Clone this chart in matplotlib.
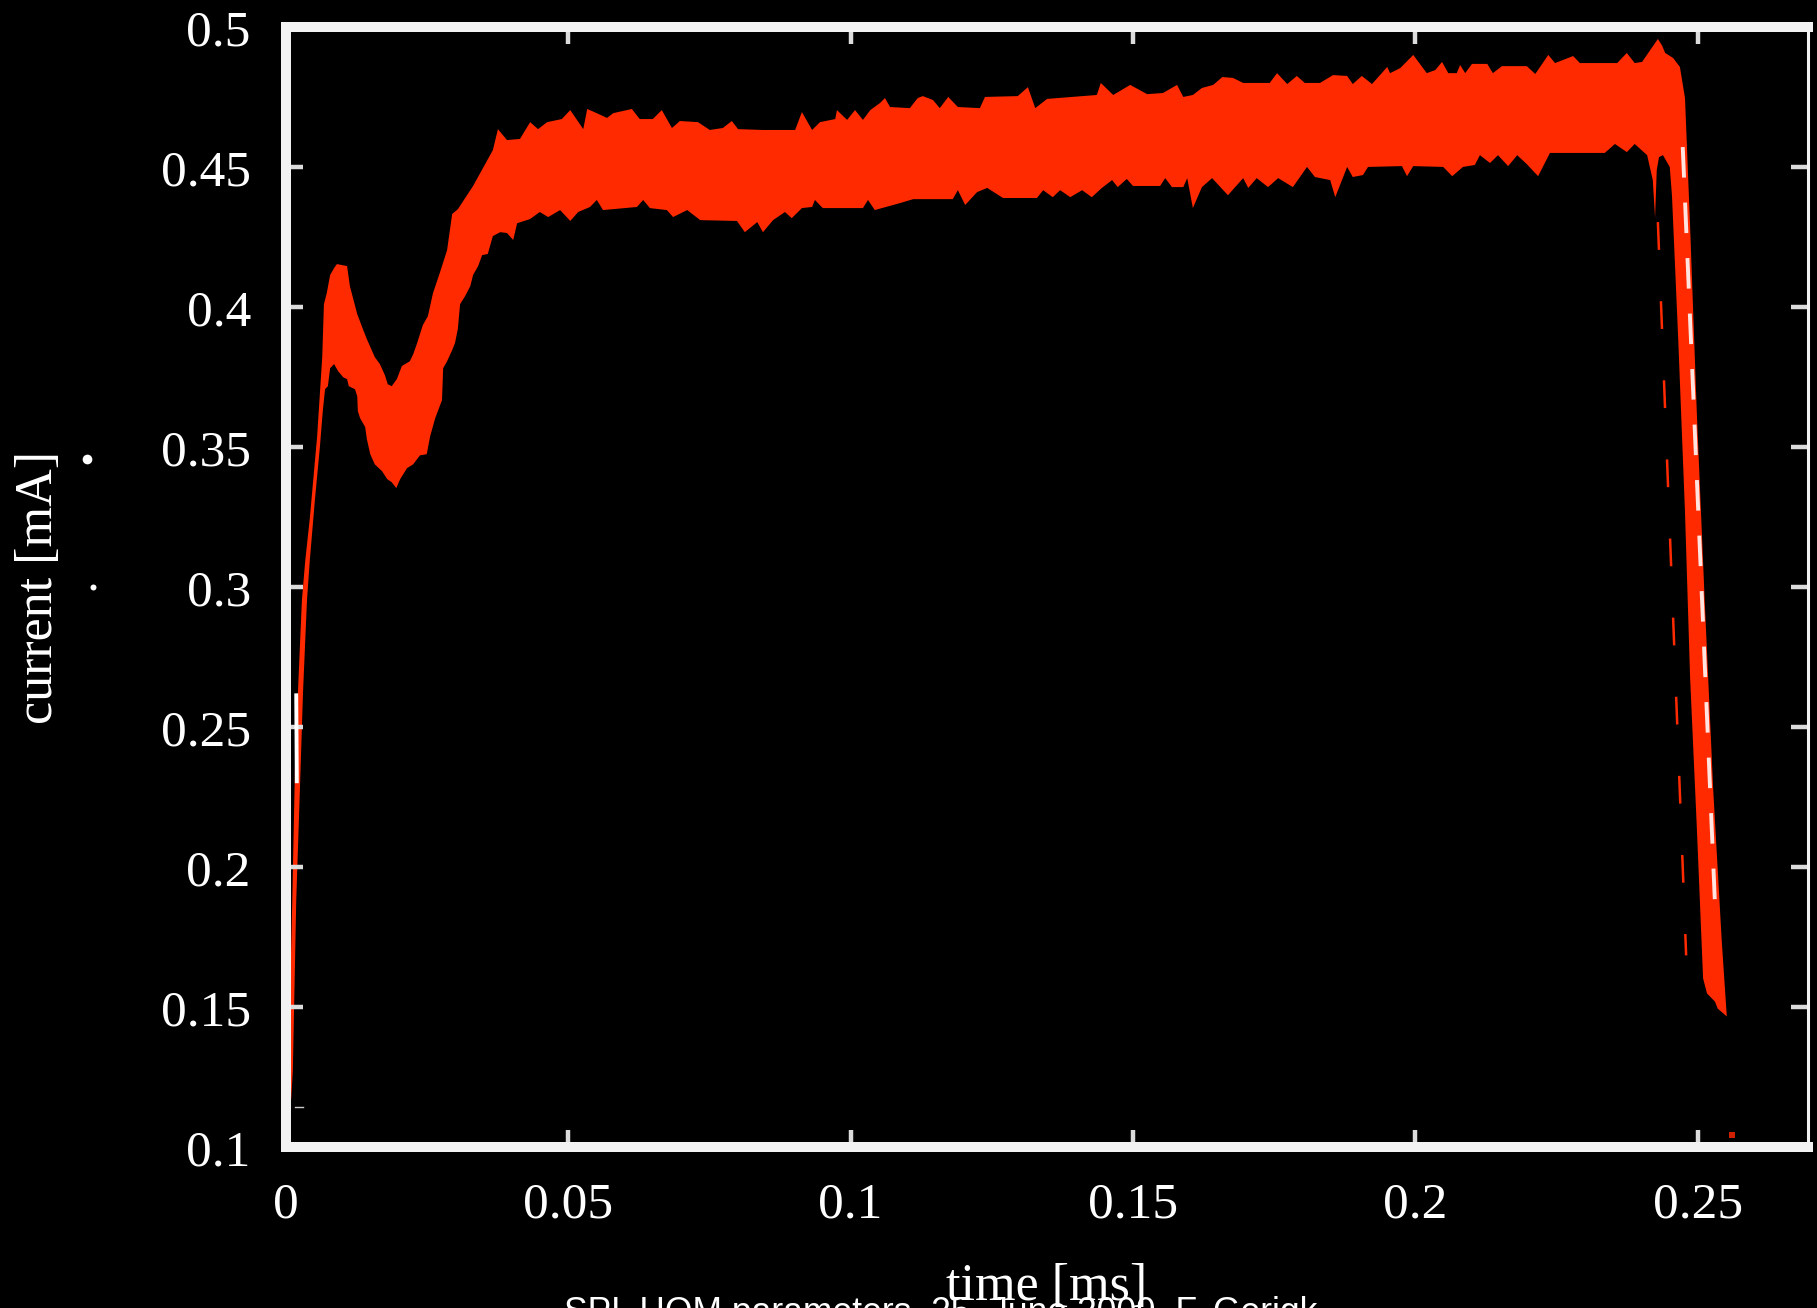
import matplotlib
matplotlib.use('Agg')
import matplotlib.pyplot as plt
from matplotlib.ticker import FormatStrFormatter

# beam current envelope (top and bottom edge of the red band), time in ms, current in mA
upper_t = [0.0006, 0.0012, 0.0017, 0.0022, 0.0029, 0.0035, 0.0043, 0.0056, 0.0065, 0.0068,
           0.0073, 0.0079, 0.0086, 0.0091, 0.0109, 0.0114, 0.0127, 0.0137, 0.0144, 0.0158,
           0.0167, 0.0176, 0.0181, 0.0188, 0.0197, 0.0206, 0.0220, 0.0226, 0.0233, 0.0243,
           0.0252, 0.0261, 0.0273, 0.0286, 0.0295, 0.0305, 0.0332, 0.0367, 0.0376, 0.0392,
           0.0415, 0.0433, 0.0447, 0.0463, 0.0489, 0.0504, 0.0527, 0.0534, 0.0551, 0.0569,
           0.0580, 0.0613, 0.0627, 0.0650, 0.0666, 0.0684, 0.0698, 0.0730, 0.0751, 0.0774,
           0.0790, 0.0801, 0.0845, 0.0902, 0.0914, 0.0932, 0.0946, 0.0973, 0.0976, 0.0994,
           0.1008, 0.1022, 0.1035, 0.1052, 0.1061, 0.1070, 0.1105, 0.1119, 0.1128, 0.1146,
           0.1158, 0.1173, 0.1190, 0.1229, 0.1238, 0.1296, 0.1314, 0.1327, 0.1348, 0.1436,
           0.1443, 0.1465, 0.1495, 0.1525, 0.1553, 0.1578, 0.1589, 0.1606, 0.1622, 0.1642,
           0.1658, 0.1677, 0.1695, 0.1742, 0.1755, 0.1773, 0.1790, 0.1804, 0.1831, 0.1854,
           0.1879, 0.1889, 0.1905, 0.1923, 0.1950, 0.1955, 0.1973, 0.1996, 0.2020, 0.2035,
           0.2047, 0.2058, 0.2073, 0.2079, 0.2088, 0.2100, 0.2127, 0.2137, 0.2153, 0.2197,
           0.2212, 0.2235, 0.2247, 0.2279, 0.2291, 0.2357, 0.2374, 0.2388, 0.2401, 0.2429,
           0.2436, 0.2442, 0.2456, 0.2468, 0.2477, 0.2486, 0.2498, 0.2512, 0.2527, 0.2542,
           0.2551]
upper_i = [0.1382, 0.1882, 0.2383, 0.2626, 0.2954, 0.3097, 0.3247, 0.3540, 0.3823, 0.4012,
           0.4051, 0.4116, 0.4141, 0.4155, 0.4148, 0.4076, 0.3976, 0.3923, 0.3887, 0.3823,
           0.3798, 0.3758, 0.3726, 0.3719, 0.3744, 0.3791, 0.3808, 0.3833, 0.3873, 0.3937,
           0.3969, 0.4051, 0.4123, 0.4205, 0.4334, 0.4351, 0.4434, 0.4562, 0.4637, 0.4598,
           0.4602, 0.4662, 0.4637, 0.4662, 0.4673, 0.4705, 0.4637, 0.4709, 0.4694, 0.4677,
           0.4694, 0.4709, 0.4673, 0.4673, 0.4705, 0.4641, 0.4666, 0.4662, 0.4634, 0.4641,
           0.4666, 0.4637, 0.4634, 0.4634, 0.4698, 0.4634, 0.4662, 0.4673, 0.4705, 0.4670,
           0.4705, 0.4670, 0.4705, 0.4730, 0.4748, 0.4716, 0.4712, 0.4748, 0.4755, 0.4741,
           0.4712, 0.4752, 0.4716, 0.4712, 0.4752, 0.4755, 0.4787, 0.4712, 0.4745, 0.4759,
           0.4802, 0.4759, 0.4795, 0.4762, 0.4766, 0.4795, 0.4752, 0.4759, 0.4784, 0.4795,
           0.4823, 0.4820, 0.4802, 0.4802, 0.4837, 0.4798, 0.4827, 0.4802, 0.4802, 0.4830,
           0.4827, 0.4798, 0.4827, 0.4798, 0.4859, 0.4837, 0.4855, 0.4902, 0.4837, 0.4848,
           0.4877, 0.4837, 0.4837, 0.4866, 0.4837, 0.4870, 0.4870, 0.4837, 0.4862, 0.4862,
           0.4834, 0.4902, 0.4873, 0.4898, 0.4873, 0.4873, 0.4909, 0.4873, 0.4877, 0.4959,
           0.4937, 0.4909, 0.4891, 0.4859, 0.4748, 0.4291, 0.3619, 0.2947, 0.2275, 0.1739,
           0.1468]

lower_t = [0.0010, 0.0013, 0.0019, 0.0026, 0.0031, 0.0038, 0.0043, 0.0052, 0.0061, 0.0066,
           0.0070, 0.0075, 0.0079, 0.0086, 0.0093, 0.0102, 0.0109, 0.0112, 0.0123, 0.0127,
           0.0128, 0.0132, 0.0141, 0.0144, 0.0150, 0.0158, 0.0171, 0.0180, 0.0188, 0.0196,
           0.0203, 0.0215, 0.0226, 0.0238, 0.0250, 0.0256, 0.0265, 0.0277, 0.0279, 0.0286,
           0.0295, 0.0300, 0.0305, 0.0309, 0.0318, 0.0327, 0.0332, 0.0341, 0.0348, 0.0358,
           0.0367, 0.0380, 0.0392, 0.0403, 0.0410, 0.0433, 0.0450, 0.0465, 0.0486, 0.0504,
           0.0518, 0.0539, 0.0551, 0.0562, 0.0622, 0.0633, 0.0645, 0.0675, 0.0686, 0.0711,
           0.0734, 0.0799, 0.0813, 0.0835, 0.0845, 0.0863, 0.0884, 0.0896, 0.0914, 0.0932,
           0.0937, 0.0951, 0.1022, 0.1031, 0.1043, 0.1088, 0.1111, 0.1181, 0.1190, 0.1203,
           0.1224, 0.1242, 0.1270, 0.1330, 0.1341, 0.1358, 0.1371, 0.1389, 0.1410, 0.1427,
           0.1445, 0.1463, 0.1473, 0.1489, 0.1500, 0.1548, 0.1557, 0.1569, 0.1589, 0.1596,
           0.1606, 0.1622, 0.1640, 0.1668, 0.1695, 0.1704, 0.1719, 0.1739, 0.1757, 0.1783,
           0.1808, 0.1822, 0.1849, 0.1858, 0.1879, 0.1889, 0.1907, 0.1916, 0.1976, 0.1985,
           0.1996, 0.2049, 0.2065, 0.2084, 0.2105, 0.2114, 0.2132, 0.2146, 0.2164, 0.2180,
           0.2197, 0.2217, 0.2238, 0.2335, 0.2353, 0.2374, 0.2388, 0.2410, 0.2420, 0.2424,
           0.2427, 0.2431, 0.2438, 0.2450, 0.2454, 0.2465, 0.2477, 0.2486, 0.2498, 0.2509,
           0.2516, 0.2530, 0.2535, 0.2551]
lower_i = [0.1168, 0.1275, 0.1882, 0.2311, 0.2626, 0.2954, 0.3097, 0.3312, 0.3505, 0.3630,
           0.3708, 0.3719, 0.3783, 0.3798, 0.3773, 0.3751, 0.3744, 0.3719, 0.3708, 0.3683,
           0.3630, 0.3605, 0.3573, 0.3530, 0.3476, 0.3440, 0.3415, 0.3387, 0.3376, 0.3355,
           0.3387, 0.3426, 0.3440, 0.3472, 0.3476, 0.3540, 0.3605, 0.3669, 0.3783, 0.3808,
           0.3848, 0.3873, 0.3923, 0.4012, 0.4041, 0.4076, 0.4116, 0.4148, 0.4187, 0.4191,
           0.4255, 0.4269, 0.4266, 0.4241, 0.4301, 0.4316, 0.4341, 0.4323, 0.4348, 0.4309,
           0.4341, 0.4359, 0.4384, 0.4348, 0.4359, 0.4384, 0.4355, 0.4348, 0.4323, 0.4348,
           0.4312, 0.4309, 0.4269, 0.4305, 0.4269, 0.4312, 0.4341, 0.4319, 0.4355, 0.4359,
           0.4384, 0.4355, 0.4355, 0.4384, 0.4348, 0.4373, 0.4387, 0.4387, 0.4419, 0.4366,
           0.4412, 0.4427, 0.4391, 0.4391, 0.4419, 0.4394, 0.4419, 0.4394, 0.4419, 0.4394,
           0.4427, 0.4455, 0.4430, 0.4459, 0.4434, 0.4434, 0.4462, 0.4430, 0.4430, 0.4462,
           0.4355, 0.4430, 0.4462, 0.4401, 0.4462, 0.4427, 0.4462, 0.4430, 0.4462, 0.4430,
           0.4502, 0.4466, 0.4455, 0.4394, 0.4502, 0.4466, 0.4473, 0.4502, 0.4505, 0.4469,
           0.4505, 0.4502, 0.4469, 0.4502, 0.4509, 0.4544, 0.4516, 0.4544, 0.4505, 0.4544,
           0.4512, 0.4469, 0.4552, 0.4552, 0.4584, 0.4555, 0.4584, 0.4544, 0.4455, 0.4320,
           0.4491, 0.4537, 0.4544, 0.4502, 0.4398, 0.3887, 0.3269, 0.2679, 0.2140, 0.1604,
           0.1550, 0.1521, 0.1496, 0.1468]

# thin dashed red trace on the falling edge
fall_t = [0.2429, 0.2479]
fall_i = [0.4305, 0.1686]
# dashed white trace inside the falling edge
white_t = [0.2473, 0.2530]
white_i = [0.4573, 0.1872]
# short white trace on the rising edge
rise_t = [0.0019, 0.0020]
rise_i = [0.2615, 0.2308]

x_ticks = [0, 0.05, 0.1, 0.15, 0.2, 0.25]
y_ticks = [0.1, 0.15, 0.2, 0.25, 0.3, 0.35, 0.4, 0.45, 0.5]

plt.rcParams['lines.scale_dashes'] = False
serif = 'Liberation Serif'

fig = plt.figure(figsize=(18.17, 13.08), dpi=100, facecolor='black')
ax = fig.add_axes([0.15713, 0.12271, 0.83801, 0.85627])
ax.set_facecolor('black')

band_t = upper_t + lower_t[::-1]
band_i = upper_i + lower_i[::-1]
ax.fill(band_t, band_i, color='#ff2a00', lw=0)

ax.plot(fall_t, fall_i, color='#ff2a00', lw=1.8, dashes=(20, 37))
ax.plot(white_t, white_i, color='#ffe4e0', lw=2.8, dashes=(22, 18))
ax.plot(rise_t, rise_i, color='#ffffff', lw=2.8)
ax.plot([0.0017, 0.0031], [0.1143, 0.1143], color='#cccccc', lw=1.0)
ax.plot([0.2560], [0.1046], 's', color='#d02000', ms=4, mew=0)

ax.set_xlim(0, 0.2695)
ax.set_ylim(0.1, 0.5)
ax.set_xticks(x_ticks)
ax.set_yticks(y_ticks)
ax.xaxis.set_major_formatter(FormatStrFormatter('%g'))
ax.yaxis.set_major_formatter(FormatStrFormatter('%g'))

ax.tick_params(direction='in', length=12, width=3.2, color='#dcdcdc',
               top=True, right=True, labelsize=37, labelcolor='white', pad=25)
for lab in ax.get_xticklabels() + ax.get_yticklabels():
    lab.set_fontfamily(serif)

for side in ['left', 'bottom', 'top']:
    ax.spines[side].set_linewidth(7.2)
    ax.spines[side].set_color('#f2f2f2')
ax.spines['right'].set_linewidth(2.2)
ax.spines['right'].set_color('#f2f2f2')
for sp in ax.spines.values():
    sp.set_zorder(5)

ax.set_ylabel('current [mA]', fontsize=37.5, color='white', fontfamily=serif)
ax.yaxis.set_label_coords(-0.146, 0.5)
ax.set_xlabel('time [ms]', fontsize=37.5, color='white', fontfamily=serif)
ax.xaxis.set_label_coords(0.5, -0.103)

# stray dots left of the y label
ax.plot([0.0479], [0.6491], 'o', color='white', ms=7, mew=0,
        transform=fig.transFigure, clip_on=False)
ax.plot([0.0512], [0.5512], 'o', color='white', ms=4.3, mew=0,
        transform=fig.transFigure, clip_on=False)

fig.text(0.5179, -0.0118, 'SPL HOM parameters, 25. June 2009, F. Gerigk',
         fontsize=25.6, color='white', fontfamily='Liberation Sans',
         ha='center', va='baseline')

fig.savefig('out.png', dpi=100, facecolor='black')
